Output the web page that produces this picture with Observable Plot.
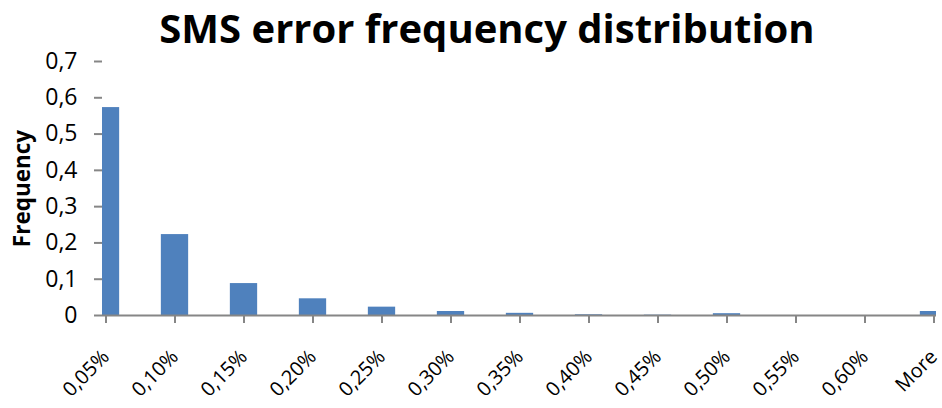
<!DOCTYPE html>
<html>
<head>
<meta charset="utf-8">
<script src="https://cdn.jsdelivr.net/npm/d3@7"></script>
<script src="https://cdn.jsdelivr.net/npm/@observablehq/plot@0.6"></script>
<style>
  body { margin: 0; background: #fff; }
  #wrap { position: relative; width: 942px; height: 408px; overflow: hidden; }
  #title { position: absolute; left: 0; top: 0; width: 942px; text-align: center;
           font-family: "Open Sans", sans-serif; font-weight: 700; font-size: 40px;
           line-height: 56px; color: #000; padding-left: 32px; box-sizing: border-box; white-space: nowrap; }
  #chart { position: absolute; left: 0; top: 0; }
  #chart svg [aria-label^="x-axis"] text { font-size: 20px !important; }
  #chart svg [aria-label^="y-axis"] text { font-size: 23px !important; }
  svg [aria-label^="x-axis"] line, svg [aria-label^="x-axis"] path,
  svg [aria-label^="y-axis"] line, svg [aria-label^="y-axis"] path { stroke: #868686; stroke-width: 2px; stroke-opacity: 1; }
</style>
</head>
<body>
<div id="wrap">
  <div id="chart"></div>
  <div id="title">SMS error frequency distribution</div>
</div>
<script>
const categories = ["0,05%","0,10%","0,15%","0,20%","0,25%","0,30%","0,35%","0,40%","0,45%","0,50%","0,55%","0,60%","More"];
const frequency = [0.573, 0.223, 0.088, 0.046, 0.023, 0.011, 0.006, 0.002, 0.001, 0.005, 0, 0, 0.011];
const yTicks = [0, 0.1, 0.2, 0.3, 0.4, 0.5, 0.6, 0.7];
const yLabel = "Frequency";

const data = categories.map((c, i) => ({cat: c, freq: frequency[i]}));
const fmt = d => String(+d.toFixed(1)).replace(".", ",");

const W = 942, left = 102, right = 936;
const step = (right - left) / (categories.length - 1);

const plot = Plot.plot({
  width: W,
  height: 408,
  marginTop: 61,
  marginBottom: 93,
  marginLeft: left,
  marginRight: W - right,
  style: {fontFamily: "'Open Sans', sans-serif", fontSize: "20px", color: "#000", background: "transparent"},
  x: {type: "band", domain: categories, padding: 0, range: [left - step / 2, right + step / 2],
      label: null, tickSize: 8, tickRotate: -45, tickPadding: 30, fontSize: 20},
  y: {domain: [0, 0.7], ticks: yTicks, tickFormat: fmt, label: null, tickSize: 8, tickPadding: 17, fontSize: 23},
  marks: [
    Plot.barY(data, {x: "cat", y: "freq", fill: "#4F81BD", insetLeft: step * 0.3, insetRight: step * 0.3, clip: true}),
    Plot.ruleY([0], {stroke: "#868686", strokeWidth: 2}),
    Plot.ruleX([0], {x: () => left, stroke: "#868686", strokeWidth: 2}),
    Plot.text([yLabel], {text: d => d, frameAnchor: "left", textAnchor: "middle", dx: -80, rotate: -90,
      fontWeight: "bold", fontSize: 22.5, fill: "#000"})
  ]
});
document.getElementById("chart").appendChild(plot);
</script>
</body>
</html>
